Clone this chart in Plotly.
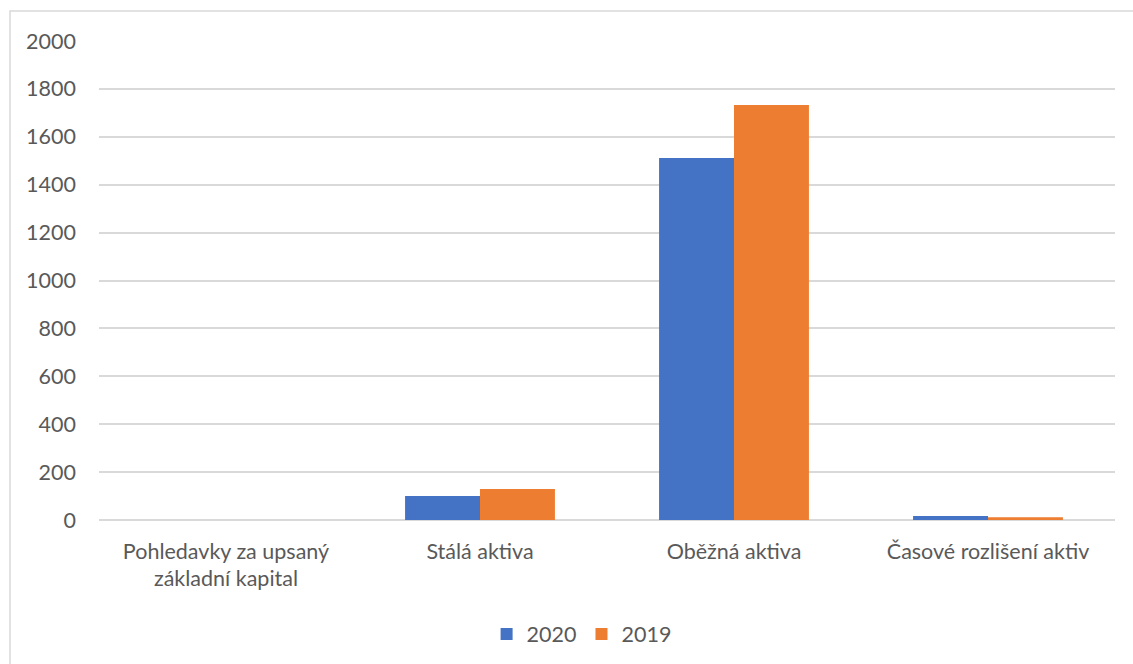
import plotly.graph_objects as go

categories = ["Pohledavky za upsaný<br>základní kapital", "Stálá aktiva", "Oběžná aktiva", "Časové rozlišení aktiv"]
values_2020 = [0, 100, 1511, 17]
values_2019 = [0, 129, 1733, 12]
series_names = ["2020", "2019"]
tick_vals = [0, 200, 400, 600, 800, 1000, 1200, 1400, 1600, 1800, 2000]

W, H = 1133, 664
L, R, T, B = 99, 18, 41, 144
pw, ph = W - L - R, H - T - B

font_family = "Lato, 'Open Sans', sans-serif"
txt = "#595959"
fs = 21.5

fig = go.Figure()
fig.add_trace(go.Bar(x=categories, y=values_2020, name=series_names[0], marker_color="#4472C4", marker_line_width=0))
fig.add_trace(go.Bar(x=categories, y=values_2019, name=series_names[1], marker_color="#ED7D31", marker_line_width=0))

fig.update_layout(
    width=W, height=H,
    margin=dict(l=L, r=R, t=T, b=B, autoexpand=False),
    paper_bgcolor="white", plot_bgcolor="white",
    barmode="group", bargap=0.41, bargroupgap=0,
    font=dict(family=font_family, size=fs, color=txt),
    showlegend=True,
    legend=dict(orientation="h", x=0.475, xanchor="center", y=-0.238, yanchor="middle",
                font=dict(size=fs, color=txt), itemwidth=30, tracegroupgap=0),
    yaxis=dict(range=[0, 2000], tickvals=tick_vals, showgrid=True, gridcolor="#d9d9d9", gridwidth=1.5,
               zeroline=True, zerolinecolor="#d9d9d9", zerolinewidth=1.5, showline=False, automargin=False,
               ticks="", ticklabelstandoff=22, tickfont=dict(size=fs, color=txt)),
    xaxis=dict(showline=False, ticks="", automargin=False, tickfont=dict(size=fs, color=txt), ticklabelstandoff=16),
)

# chart border
fig.add_shape(type="rect", xref="paper", yref="paper",
              x0=(10 - L) / pw, x1=(W + 20 - L) / pw,
              y0=-(H + 20 - (H - B)) / ph,
              y1=1 + (T - 11) / ph,
              line=dict(color="#d9d9d9", width=1.5), fillcolor="rgba(0,0,0,0)", layer="below")

fig.write_html("out.html")
